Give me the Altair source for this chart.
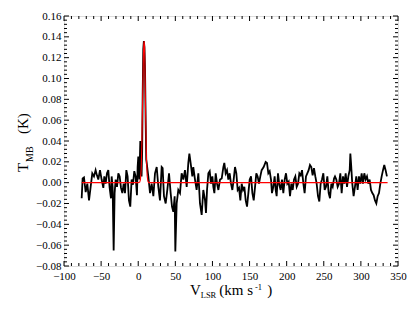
import altair as alt
import pandas as pd

# ---------------- data ----------------
v_black = [
    -76.2, -74.9, -73.1, -70.8, -68.6, -66.3, -64.1, -61.9, -59.6, -57.4,
    -55.6, -53.8, -51.5, -49.3, -47.0, -45.7, -43.9, -42.1, -40.3, -38.5,
    -36.7, -35.8, -34.5, -33.1, -31.8, -30.4, -28.6, -26.8, -25.0, -23.2,
    -21.4, -19.6, -17.8, -16.0, -14.3, -12.5, -10.7, -8.9, -7.1, -5.3,
    -3.5, -1.7, -0.8, 0.1, 1.5, 2.8, 3.6, 4.5, 5.3, 6.0,
    6.8, 7.6, 8.4, 9.2, 10.0, 10.8, 11.4, 13.6, 15.9, 18.1,
    20.4, 22.6, 24.9, 27.1, 29.3, 31.6, 32.9, 34.7, 37.0, 39.2,
    41.5, 43.7, 45.5, 47.3, 49.1, 50.0, 51.8, 54.0, 56.3, 58.5,
    60.8, 63.0, 65.3, 67.5, 68.9, 70.6, 72.9, 74.2, 76.5, 78.7,
    81.0, 83.2, 85.5, 87.7, 90.0, 91.3, 92.7, 94.5, 96.3, 98.1,
    99.9, 101.2, 102.6, 104.4, 106.2, 108.0, 110.2, 112.5, 114.7, 116.0,
    117.8, 119.6, 121.4, 123.2, 125.0, 126.8, 128.6, 130.4, 132.2, 134.0,
    135.8, 137.6, 139.4, 141.2, 143.0, 144.8, 146.6, 148.4, 150.2, 152.0,
    153.8, 155.6, 157.4, 159.1, 160.9, 162.7, 164.5, 166.3, 169.0, 171.7,
    173.5, 175.3, 177.1, 178.9, 180.2, 182.0, 183.8, 185.2, 186.5, 188.3,
    190.1, 191.9, 193.7, 195.5, 197.3, 199.1, 200.9, 202.7, 204.5, 206.3,
    208.1, 209.9, 211.7, 213.5, 215.3, 217.1, 218.9, 220.7, 222.5, 224.2,
    226.0, 227.8, 229.6, 231.4, 233.2, 235.0, 236.8, 238.6, 240.4, 242.2,
    244.0, 245.8, 247.6, 249.4, 251.2, 253.0, 254.8, 256.6, 258.4, 260.2,
    262.0, 263.8, 265.1, 266.9, 268.7, 270.5, 272.3, 274.1, 275.9, 277.7,
    279.5, 281.3, 283.1, 284.9, 285.8, 286.7, 288.4, 290.2, 292.0, 293.8,
    295.6, 297.4, 299.2, 301.0, 302.8, 304.6, 306.4, 308.2, 310.0, 311.8,
    313.6, 315.4, 317.2, 319.0, 320.8, 322.6, 324.4, 326.2, 328.0, 329.8,
    331.5, 333.3, 335.1,
]
t_black = [
    -0.015, 0.004, 0.005, -0.009, -0.001, -0.017, -0.004, 0.009, 0.006, 0.012,
    0.007, 0.003, 0.012, 0.003, -0.005, 0.006, -0.001, 0.009, 0.012, -0.005,
    -0.015, 0.006, -0.004, -0.065, -0.010, 0.003, -0.004, 0.009, 0.006, -0.005,
    -0.010, -0.001, -0.010, 0.012, 0.006, -0.017, -0.023, 0.003, -0.002, 0.011,
    0.006, -0.012, 0.015, 0.025, 0.003, 0.040, 0.012, 0.006, 0.030, 0.085,
    0.128, 0.136, 0.130, 0.108, 0.060, 0.022, 0.019, 0.006, -0.010, -0.001,
    -0.013, 0.009, 0.015, -0.004, -0.017, 0.015, 0.014, -0.013, -0.020, -0.007,
    0.009, -0.010, -0.023, -0.028, -0.013, -0.066, -0.020, -0.007, -0.010, 0.009,
    0.003, 0.012, -0.004, 0.019, 0.028, 0.019, 0.006, 0.015, 0.003, -0.007,
    0.009, -0.020, -0.031, -0.007, -0.017, -0.029, -0.007, 0.009, 0.011, -0.001,
    0.006, -0.004, -0.010, 0.009, -0.001, -0.007, 0.003, 0.004, 0.015, 0.019,
    0.009, 0.012, 0.003, 0.009, -0.001, -0.007, 0.003, 0.015, 0.009, -0.007,
    -0.005, -0.017, -0.001, -0.007, -0.004, -0.017, -0.023, -0.010, 0.003, 0.006,
    -0.010, -0.017, -0.004, 0.009, 0.006, -0.001, 0.006, 0.012, 0.015, 0.020,
    0.019, 0.009, 0.011, 0.003, -0.010, -0.004, 0.006, -0.007, -0.013, 0.009,
    -0.002, -0.007, 0.003, -0.010, 0.003, 0.009, -0.001, 0.001, -0.013, -0.001,
    -0.007, 0.003, 0.006, -0.004, -0.001, 0.009, 0.007, 0.012, -0.001, -0.010,
    0.006, 0.009, 0.012, 0.017, 0.015, 0.007, 0.014, 0.006, -0.001, -0.013,
    -0.018, -0.001, 0.003, 0.009, -0.007, -0.004, 0.006, -0.010, -0.015, -0.001,
    -0.004, 0.004, 0.006, 0.003, -0.004, -0.001, 0.009, -0.010, 0.006, -0.001,
    0.009, -0.004, 0.006, 0.012, 0.028, 0.019, -0.001, -0.013, -0.004, 0.006,
    -0.007, 0.006, -0.001, 0.009, -0.001, 0.009, 0.003, 0.006, -0.001, 0.003,
    -0.007, -0.010, -0.012, -0.017, -0.020, -0.013, -0.010, -0.001, 0.006, 0.012,
    0.017, 0.012, 0.006,
]

# Gaussian fit (red)
v_fit = [-76.0, 0.0, 2.0, 3.0, 4.0, 5.0, 6.0, 7.0, 7.5, 8.0, 8.5, 9.0,
         10.0, 11.0, 12.0, 13.0, 14.0, 16.0, 336.0]
t_fit = [0.0, 0.0, 0.0005, 0.003, 0.013, 0.040, 0.083, 0.123, 0.133, 0.136,
         0.131, 0.115, 0.065, 0.025, 0.007, 0.0015, 0.0, 0.0, 0.0]

x_major = [-100, -50, 0, 50, 100, 150, 200, 250, 300, 350]
y_major = [-0.08, -0.06, -0.04, -0.02, 0.00, 0.02, 0.04, 0.06, 0.08,
           0.10, 0.12, 0.14, 0.16]
x_minor = [v for v in range(-100, 351, 10) if v % 50 != 0]
y_minor = [round(-0.08 + 0.004 * i, 3) for i in range(61) if i % 5 != 0]

# ---------------- layout ----------------
W, H = 334, 250
FONT = "Liberation Serif"
MAJ, MIN = 5, 3

xs = alt.Scale(domain=[-100, 350], nice=False, zero=False)
ys = alt.Scale(domain=[-0.08, 0.16], nice=False, zero=False)

black_df = pd.DataFrame({"v": v_black, "t": t_black})
fit_df = pd.DataFrame({"v": v_fit, "t": t_fit})

common = dict(labelFont=FONT, labelFontSize=11, labelColor="black",
              labelOverlap=False, labelFlush=False, labelBound=False,
              ticks=False, tickSize=0, domain=False, grid=False, title=None)
x_axis = alt.Axis(values=x_major, format="d", labelPadding=4, **common)
y_axis = alt.Axis(values=y_major, format=".2f", labelPadding=3, **common)

XE = dict(scale=xs, axis=x_axis)
YE = dict(scale=ys, axis=y_axis)

spec = alt.Chart(black_df).mark_line(color="black", strokeWidth=1.8,
                                     interpolate="linear").encode(
    x=alt.X("v:Q", **XE),
    y=alt.Y("t:Q", **YE),
)

fit = alt.Chart(fit_df).mark_line(color="#ff0000", strokeWidth=1.1).encode(
    x=alt.X("v:Q", **XE),
    y=alt.Y("t:Q", **YE),
)


def xticks(vals, length):
    d = pd.DataFrame({"v": vals})
    bot = alt.Chart(d).mark_rule(color="black", strokeWidth=1).encode(
        x=alt.X("v:Q", **XE), y=alt.value(H), y2=alt.value(H - length))
    top = alt.Chart(d).mark_rule(color="black", strokeWidth=1).encode(
        x=alt.X("v:Q", **XE), y=alt.value(0), y2=alt.value(length))
    return [bot, top]


def yticks(vals, length):
    d = pd.DataFrame({"t": vals})
    left = alt.Chart(d).mark_rule(color="black", strokeWidth=1).encode(
        y=alt.Y("t:Q", **YE), x=alt.value(0), x2=alt.value(length))
    right = alt.Chart(d).mark_rule(color="black", strokeWidth=1).encode(
        y=alt.Y("t:Q", **YE), x=alt.value(W), x2=alt.value(W - length))
    return [left, right]


def label(txt, x, y, size, angle=0):
    d = pd.DataFrame({"s": [txt]})
    kw = dict(font=FONT, fontSize=size, color="black", align="left",
              baseline="alphabetic")
    if angle:
        kw["angle"] = angle
    return alt.Chart(d).mark_text(**kw).encode(
        text="s:N", x=alt.value(x), y=alt.value(y))


titles = [
    label("V", 126, 278.7, 15),
    label("LSR", 136.7, 282, 8.5),
    label("(km s", 155.3, 278.7, 15),
    label("-1", 191, 274, 8.5),
    label(")", 203.3, 278.7, 15),
    label("T", -36, 156, 15, 270),
    label("MB", -31, 146, 10, 270),
    label("(K)", -36, 118, 15, 270),
]

layers = ([spec, fit] + xticks(x_major, MAJ) + xticks(x_minor, MIN)
          + yticks(y_major, MAJ) + yticks(y_minor, MIN) + titles)

chart = alt.layer(*layers).properties(
    width=W, height=H,
    autosize=alt.AutoSizeParams(type="none"),
    padding={"left": 56, "top": 8, "right": 9, "bottom": 40},
).configure_view(
    stroke="black", strokeWidth=1.2
).configure(background="white")

chart.save("out.html", embed_options={"renderer": "svg", "actions": False})
